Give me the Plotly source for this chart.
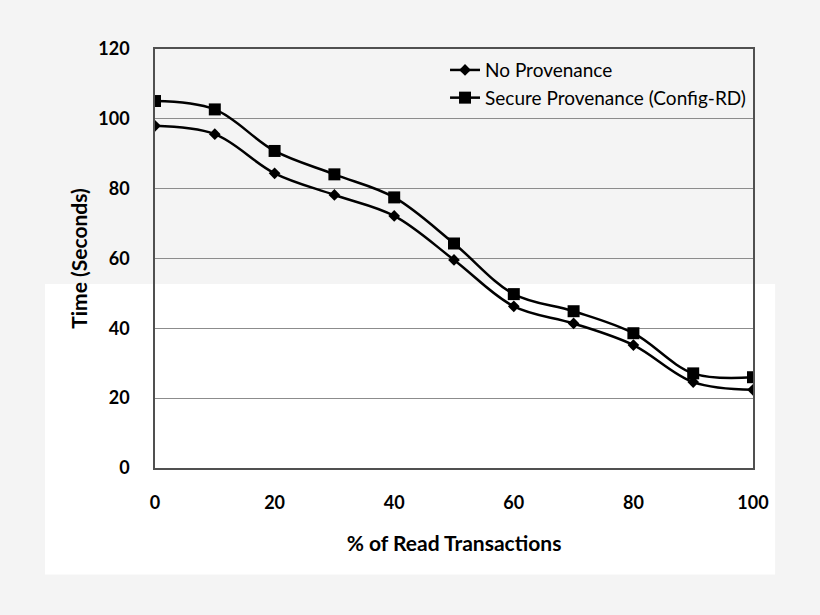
import plotly.graph_objects as go

x_pct = [0, 10, 20, 30, 40, 50, 60, 70, 80, 90, 100]
no_prov = [98.0, 95.6, 84.4, 78.2, 72.2, 59.6, 46.3, 41.4, 35.2, 24.6, 22.4]
secure_prov = [105.1, 102.7, 90.8, 84.1, 77.5, 64.3, 49.8, 44.9, 38.6, 27.1, 26.0]
y_ticks = [0, 20, 40, 60, 80, 100, 120]
x_ticks = [0, 20, 40, 60, 80, 100]

FONT = "Lato, 'Open Sans', 'DejaVu Sans', sans-serif"

fig = go.Figure()
fig.add_trace(go.Scatter(
    x=x_pct, y=no_prov, name="No Provenance", mode="lines+markers",
    legendgroup="a",
    line=dict(color="black", width=2.5, shape="spline", smoothing=1.0),
    marker=dict(symbol="diamond", size=9, color="black"),
))
fig.add_trace(go.Scatter(
    x=x_pct, y=secure_prov, name="Secure Provenance (Config-RD)", mode="lines+markers",
    legendgroup="b",
    line=dict(color="black", width=2.5, shape="spline", smoothing=1.0),
    marker=dict(symbol="square", size=12, color="black"),
))

# white overlay block present in the reference image
fig.add_shape(type="rect", xref="paper", yref="paper",
              x0=-0.184, x1=1.037, y0=-0.254, y1=0.439,
              fillcolor="white", line=dict(width=0), layer="below")

fig.update_layout(
    width=820, height=615,
    margin=dict(l=155, r=67, t=49, b=147),
    paper_bgcolor="#f4f4f4",
    plot_bgcolor="rgba(0,0,0,0)",
    showlegend=True,
    legend=dict(x=0.485, y=0.995, xanchor="left", yanchor="top",
                bgcolor="rgba(0,0,0,0)", traceorder="grouped",
                font=dict(family=FONT, size=19, color="black"),
                itemwidth=30, tracegroupgap=0),
    font=dict(family=FONT, color="black"),
)
fig.update_xaxes(
    range=[0, 100], tickvals=x_ticks, ticktext=[str(v) for v in x_ticks],
    showgrid=False, zeroline=False,
    showline=True, linecolor="#505050", linewidth=1.5, mirror=True,
    ticks="", ticklabelstandoff=18,
    tickfont=dict(family=FONT, size=18, color="black", weight="bold"),
    title=dict(text="% of Read Transactions", standoff=24,
               font=dict(family=FONT, size=21, color="black", weight="bold")),
)
fig.update_yaxes(
    range=[0, 120], tickvals=y_ticks, ticktext=[str(v) for v in y_ticks],
    showgrid=True, gridcolor="#8c8c8c", gridwidth=1, zeroline=False,
    showline=True, linecolor="#505050", linewidth=1.5, mirror=True,
    ticks="", ticklabelstandoff=20,
    tickfont=dict(family=FONT, size=18, color="black", weight="bold"),
    title=dict(text="Time (Seconds)", standoff=5,
               font=dict(family=FONT, size=21, color="black", weight="bold")),
)

fig.write_html("out.html", config={"displayModeBar": False},
               post_script="document.body.style.margin='0';document.body.style.overflow='hidden';")
